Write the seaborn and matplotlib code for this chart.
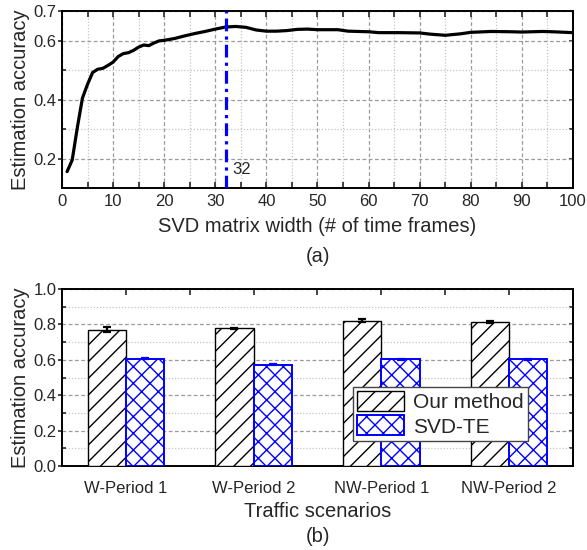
import numpy as np
import pandas as pd
import matplotlib
matplotlib.use("Agg")
import matplotlib.pyplot as plt
from matplotlib.patches import Patch
from matplotlib.ticker import MultipleLocator, FixedLocator
import seaborn as sns

# (a) accuracy versus SVD matrix width
width_frames = [1, 2, 3, 4, 5, 6, 7, 8, 9, 10, 11, 12, 13, 14, 15, 16, 17, 18, 19, 20,
                22, 24, 26, 28, 30, 32, 34, 36, 38, 40, 42, 44, 46, 48, 50, 54, 56, 60,
                62, 66, 70, 72, 75, 78, 80, 84, 88, 90, 94, 96, 100]
width_accuracy = [0.156, 0.195, 0.305, 0.405, 0.452, 0.492, 0.503, 0.506, 0.516, 0.527,
                  0.546, 0.556, 0.559, 0.567, 0.578, 0.585, 0.583, 0.592, 0.599, 0.601,
                  0.607, 0.616, 0.624, 0.631, 0.639, 0.646, 0.648, 0.645, 0.636, 0.632,
                  0.632, 0.634, 0.638, 0.639, 0.637, 0.637, 0.632, 0.630, 0.627, 0.627,
                  0.626, 0.622, 0.618, 0.623, 0.628, 0.631, 0.630, 0.629, 0.631, 0.630,
                  0.627]
best_width = 32

# (b) accuracy per traffic scenario
scenarios = ["W-Period 1", "W-Period 2", "NW-Period 1", "NW-Period 2"]
methods = ["Our method", "SVD-TE"]
ours_mean = [0.770, 0.777, 0.822, 0.815]
ours_err = [0.013, 0.004, 0.006, 0.005]
svd_mean = [0.606, 0.572, 0.604, 0.604]
svd_err = [0.003, 0.003, 0.003, 0.003]

sns.set_style("white")
plt.rcParams["font.family"] = ["Liberation Sans", "DejaVu Sans"]
plt.rcParams["hatch.linewidth"] = 1.0

LABEL_FS = 14.5
TICK_FS = 12
BLUE = "#0000ff"

fig = plt.figure(figsize=(5.87, 5.5), dpi=100)
ax1 = fig.add_axes([0.1056, 0.658, 0.8705, 0.3218])
ax2 = fig.add_axes([0.1056, 0.1527, 0.8705, 0.3218])


def style_spines(ax):
    for s in ax.spines.values():
        s.set_visible(True)
        s.set_color("black")
        s.set_linewidth(1.4)


def style_grid(ax, axis):
    ax.grid(True, which="major", axis=axis, linestyle=(0, (3, 2)), color="#9a9a9a", linewidth=0.9)
    ax.grid(True, which="minor", axis=axis, linestyle=(0, (1, 1.5)), color="#c4c4c4", linewidth=0.9)
    ax.set_axisbelow(True)


# ---------- (a) ----------
curve = pd.DataFrame({"width": width_frames, "acc": width_accuracy})
sns.lineplot(data=curve, x="width", y="acc", ax=ax1, color="black", linewidth=2.3)
ax1.axvline(best_width, color=BLUE, linewidth=2.3, linestyle=(0, (4, 1.6, 1, 1.6)), zorder=4)
ax1.text(best_width + 1.3, 0.162, str(best_width), fontsize=TICK_FS, va="center", ha="left")

ax1.set_xlim(0, 100)
ax1.set_ylim(0.1, 0.7)
ax1.xaxis.set_major_locator(MultipleLocator(10))
ax1.xaxis.set_minor_locator(MultipleLocator(5))
ax1.yaxis.set_major_locator(FixedLocator([0.2, 0.4, 0.6, 0.7]))
ax1.yaxis.set_minor_locator(FixedLocator([0.3, 0.5]))
ax1.set_yticklabels(["0.2", "0.4", "0.6", "0.7"])
style_grid(ax1, "both")
style_spines(ax1)
ax1.tick_params(axis="x", which="both", direction="in", top=True, bottom=True,
                length=4, width=1.2, labelsize=TICK_FS, pad=4)
ax1.tick_params(axis="y", which="major", direction="out", left=True, right=False,
                length=3, width=1.2, labelsize=TICK_FS, pad=1)
ax1.tick_params(axis="y", which="minor", direction="in", left=True, right=False,
                length=3, width=1.2)
sec1 = ax1.secondary_yaxis("right")
sec1.set_yticks([0.2, 0.3, 0.4, 0.5, 0.6])
sec1.tick_params(direction="in", length=3, width=1.2, labelright=False)
sec1.spines["right"].set_linewidth(1.4)
ax1.set_xlabel("SVD matrix width (# of time frames)", fontsize=LABEL_FS, labelpad=6)
ax1.set_ylabel("Estimation accuracy", fontsize=LABEL_FS)
ax1.yaxis.set_label_coords(-0.062, 0.5)

# ---------- (b) ----------
bars = pd.DataFrame({
    "scenario": scenarios * 2,
    "method": [methods[0]] * len(scenarios) + [methods[1]] * len(scenarios),
    "acc": ours_mean + svd_mean,
})
sns.barplot(data=bars, x="scenario", y="acc", hue="method", order=scenarios,
            hue_order=methods, palette=["white", "white"], width=0.6,
            errorbar=None, legend=False, ax=ax2, zorder=3)

styles = [("black", "//", ours_err, 1.0), (BLUE, "xx", svd_err, 1.4)]
for container, (col, hatch, err, lw) in zip(ax2.containers, styles):
    xs, hs = [], []
    for bar in container:
        bar.set_facecolor("white")
        bar.set_edgecolor(col)
        bar.set_hatch(hatch)
        bar.set_linewidth(lw)
        xs.append(bar.get_x() + bar.get_width() / 2)
        hs.append(bar.get_height())
    ax2.errorbar(xs, hs, yerr=err, fmt="none", ecolor=col, elinewidth=1.6,
                 capsize=3.2, capthick=1.6, zorder=5)

ax2.set_xlim(-0.5, 3.5)
ax2.set_ylim(0, 1.0)
ax2.yaxis.set_major_locator(MultipleLocator(0.2))
ax2.yaxis.set_minor_locator(MultipleLocator(0.1))
ax2.yaxis.set_major_formatter(matplotlib.ticker.FormatStrFormatter("%.1f"))
ax2.xaxis.set_minor_locator(FixedLocator([0.5, 1.5, 2.5]))
style_grid(ax2, "y")
style_spines(ax2)
ax2.tick_params(axis="x", which="both", direction="in", top=True, bottom=False,
                length=4, width=1.2, labelsize=TICK_FS, pad=11)
ax2.tick_params(axis="y", which="major", direction="out", left=True, right=False,
                length=3, width=1.2, labelsize=TICK_FS, pad=1)
ax2.tick_params(axis="y", which="minor", direction="in", left=True, right=False,
                length=3, width=1.2)
sec2 = ax2.secondary_yaxis("right")
sec2.set_yticks(np.arange(0.1, 1.0, 0.1))
sec2.tick_params(direction="in", length=3, width=1.2, labelright=False)
sec2.spines["right"].set_linewidth(1.4)
ax2.set_xlabel("Traffic scenarios", fontsize=LABEL_FS, labelpad=4)
ax2.set_ylabel("Estimation accuracy", fontsize=LABEL_FS)
ax2.yaxis.set_label_coords(-0.062, 0.5)

handles = [Patch(facecolor="white", edgecolor="black", hatch="//", linewidth=1.0, label=methods[0]),
           Patch(facecolor="white", edgecolor=BLUE, hatch="xx", linewidth=1.4, label=methods[1])]
leg = ax2.legend(handles=handles, loc="upper left", bbox_to_anchor=(0.569, 0.446),
                 borderaxespad=0, fontsize=15, frameon=True, fancybox=False,
                 framealpha=1, edgecolor="#444444", borderpad=0.2, labelspacing=0.15,
                 handlelength=2.25, handleheight=1.1, handletextpad=0.45)
leg.get_frame().set_linewidth(1.0)
leg.set_zorder(6)

fig.text(0.541, 1 - 256 / 550, "(a)", fontsize=LABEL_FS, ha="center", va="center")
fig.text(0.541, 1 - 537 / 550, "(b)", fontsize=LABEL_FS, ha="center", va="center")

fig.savefig("out.png", dpi=100)
